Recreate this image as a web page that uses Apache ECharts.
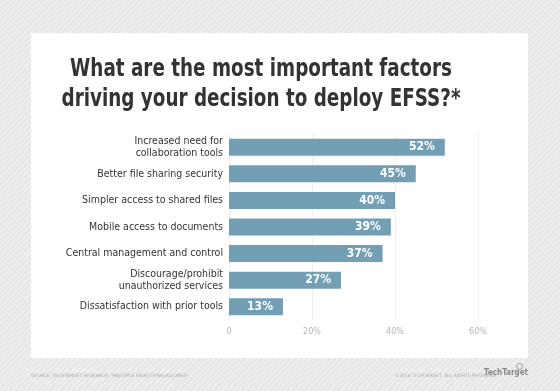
<!DOCTYPE html>
<html><head><meta charset="utf-8">
<script src="https://cdn.jsdelivr.net/npm/echarts@6/dist/echarts.min.js"></script>
<style>
html,body{margin:0;padding:0;}
body{width:560px;height:391px;background:#ececec repeating-linear-gradient(135deg,#efefef 0px,#efefef 2px,#e6e6e6 2px,#e6e6e6 4px);}
#c{width:560px;height:391px;}
</style></head><body>
<div id="c"></div>
<script>
const categories = [
  "Increased need for\ncollaboration tools",
  "Better file sharing security",
  "Simpler access to shared files",
  "Mobile access to documents",
  "Central management and control",
  "Discourage/prohibit\nunauthorized services",
  "Dissatisfaction with prior tools"
];
const values = [52, 45, 40, 39, 37, 27, 13];
const tickLabels = ["0", "20%", "40%", "60%"];

const chart = echarts.init(document.getElementById('c'), null, {renderer:'canvas'});
chart.setOption({
  backgroundColor: 'transparent',
  animation: false,
  graphic: [
    {type:'rect', left:31, top:33, shape:{width:497, height:325}, style:{fill:'#ffffff'}, z:-10},
    {type:'text', x:0, y:0, scaleX:0.85, originX:261, originY:0,
     style:{x:261, y:55, text:'What are the most important factors\ndriving your decision to deploy EFSS?*', fill:'#333333', font:'bold 24px "Liberation Sans Narrow", "DejaVu Sans Condensed", sans-serif', align:'center', lineHeight:30}},
    {type:'text', left:31, top:373, style:{text:'SOURCE: TECHTARGET RESEARCH; *MULTIPLE SELECTIONS ALLOWED', fill:'#aaaaaa', font:'4.5px "DejaVu Sans", sans-serif'}},
    {type:'text', right:64, top:373, style:{text:'©2018 TECHTARGET. ALL RIGHTS RESERVED', fill:'#aaaaaa', font:'4.5px "DejaVu Sans", sans-serif'}},
    {type:'text', right:32, top:369, style:{text:'TechTarget', fill:'#888888', font:'bold 8px "DejaVu Sans Condensed", sans-serif'}},
    {type:'circle', left:514, top:361, shape:{r:3}, style:{fill:'none', stroke:'#999', lineWidth:1}}
  ],
  grid: {left:229, right:82, top:134, bottom:71, containLabel:false},
  xAxis: {
    type:'value', min:0, max:60, interval:20,
    axisLine:{show:false}, axisTick:{show:false},
    splitLine:{show:true, lineStyle:{color:'#eeeeee', width:1}},
    axisLabel:{color:'#b5b5b5', fontSize:8, margin:8, fontFamily:'"DejaVu Sans", sans-serif',
      formatter:(v)=>tickLabels[v/20]}
  },
  yAxis: {
    type:'category', data:categories, inverse:true,
    axisLine:{show:false}, axisTick:{show:false},
    axisLabel:{color:'#333333', fontSize:10.5, margin:6, lineHeight:12, fontFamily:'"DejaVu Sans Condensed", "Liberation Sans", sans-serif'}
  },
  series: [{
    type:'bar', data:values, barWidth:17,
    itemStyle:{color:'#739fb4'},
    label:{show:true, position:'insideRight', distance:10, color:'#ffffff', fontWeight:'bold', fontSize:12, fontFamily:'"DejaVu Sans Condensed", sans-serif', formatter:'{c}%'}
  }]
});
</script>
</body></html>
